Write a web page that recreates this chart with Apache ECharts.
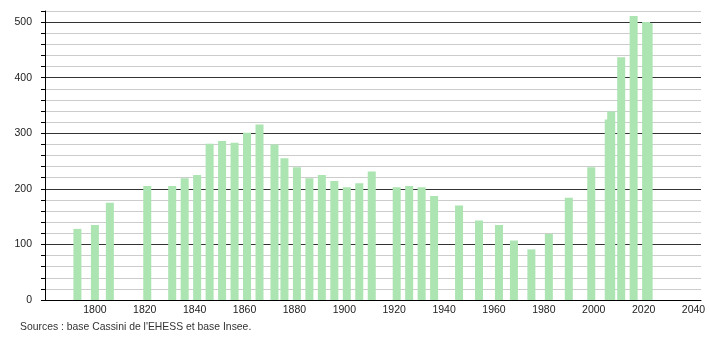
<!DOCTYPE html>
<html>
<head>
<meta charset="utf-8">
<script src="https://cdn.jsdelivr.net/npm/echarts@6/dist/echarts.min.js"></script>
<style>
html,body{margin:0;padding:0;background:#fff;}
#c{width:710px;height:340px;}
</style>
</head>
<body>
<div id="c"></div>
<script>
const years = [1793,1800,1806,1821,1831,1836,1841,1846,1851,1856,1861,1866,1872,1876,1881,1886,1891,1896,1901,1906,1911,1921,1926,1931,1936,1946,1954,1962,1968,1975,1982,1990,1999,2006,2007,2011,2016,2021,2022];
const population = [128,135,175,205,205,219,225,281,286,283,301,316,280,255,239,219,225,214,203,210,231,203,205,203,187,170,143,135,107,91,119,184,239,325,339,437,511,500,498];
const yTickLabels = ['0','100','200','300','400','500'];
const xTickLabels = ['1800','1820','1840','1860','1880','1900','1920','1940','1960','1980','2000','2020','2040'];
const sourceText = "Sources : base Cassini de l'EHESS et base Insee.";

const chart = echarts.init(document.getElementById('c'), null, {renderer:'canvas'});
const font = 'Liberation Sans, Arial, sans-serif';
chart.setOption({
  animation:false,
  backgroundColor:'#fff',
  grid:{left:45,right:9,top:11,bottom:40,containLabel:false},
  xAxis:{
    type:'value', min:1780, max:2043, interval:20,
    axisLine:{show:true,lineStyle:{color:'#000',width:1}},
    axisTick:{show:false},
    splitLine:{show:false},
    axisLabel:{
      color:'#222', fontFamily:font, fontSize:10.5, margin:5,
      formatter:v => xTickLabels.includes(String(v)) ? String(v) : ''
    }
  },
  yAxis:{
    type:'value', min:0, max:520, interval:20,
    axisLine:{show:true,lineStyle:{color:'#000',width:1}},
    axisTick:{show:true,length:4,lineStyle:{color:'#000'}},
    splitLine:{show:true,lineStyle:{color:['#333','#ccc','#ccc','#ccc','#ccc'],width:1}},
    axisLabel:{
      color:'#222', fontFamily:font, fontSize:10.5, margin:13,
      formatter:v => yTickLabels.includes(String(v)) ? String(v) : ''
    }
  },
  series:[{
    type:'bar',
    data: years.map((y,i)=>[y,population[i]]),
    barWidth:8,
    itemStyle:{color:'#ace4b2'},
    silent:true
  }],
  graphic:[{
    type:'text', left:20, top:322,
    style:{text:sourceText, fill:'#333', font:'10.4px '+font}
  }]
});
</script>
</body>
</html>
